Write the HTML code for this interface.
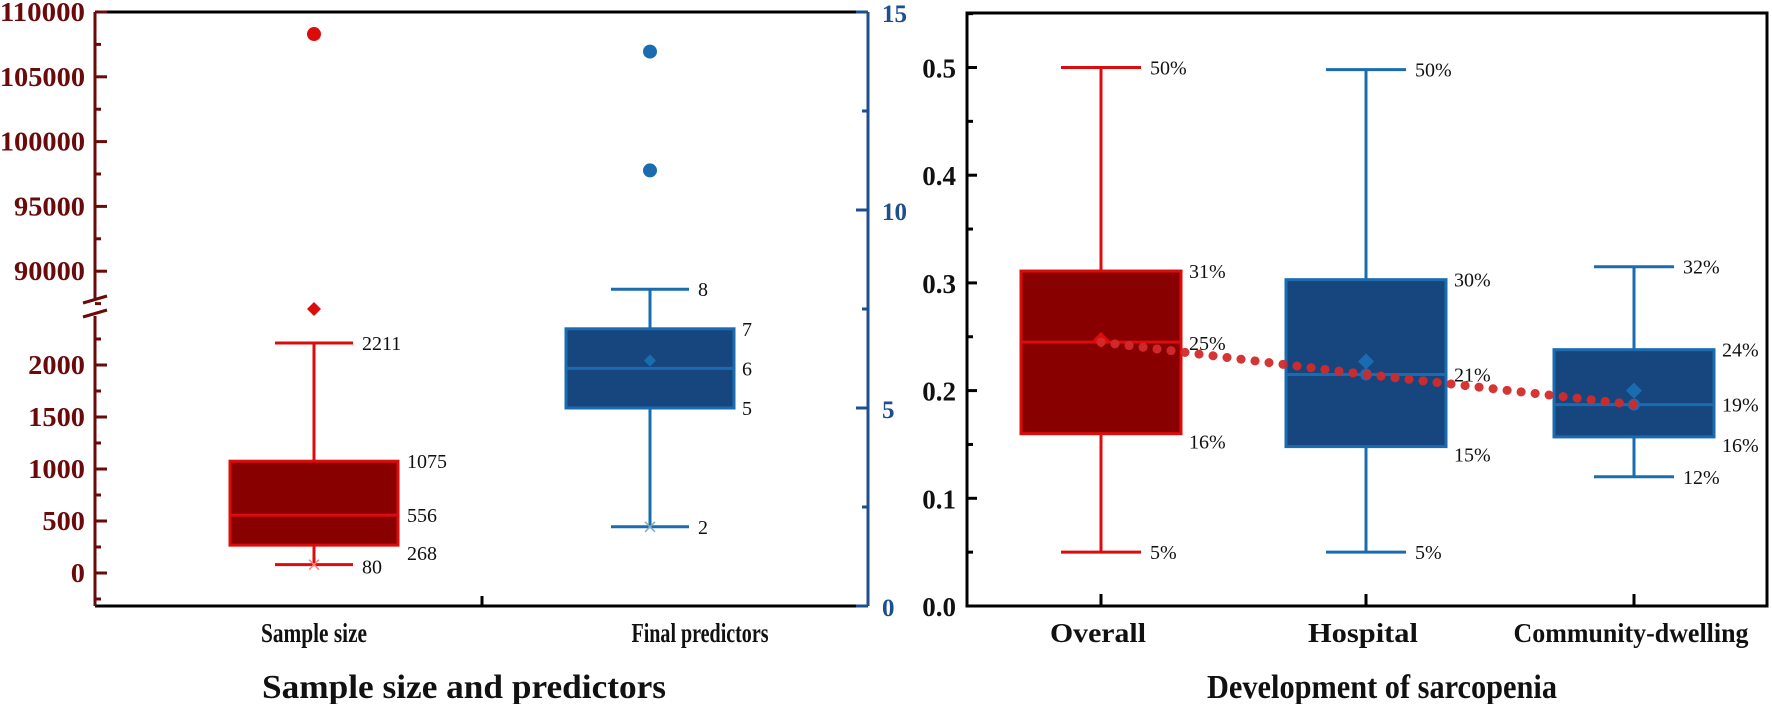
<!DOCTYPE html>
<html><head><meta charset="utf-8"><style>
html,body{margin:0;padding:0;background:#fff;}
svg{display:block;}
text{font-family:"Liberation Serif",serif;}
</style></head><body>
<svg id="chart" width="1772" height="704" viewBox="0 0 1772 704" xmlns="http://www.w3.org/2000/svg"></svg>
<script>
// ---- Left panel data ----
const leftCats = ["Sample size", "Final predictors"];
const sampleStats = [80, 268, 556, 1075, 2211]; // min,q1,med,q3,max
const sampleOutliers = [108300];
const predictorStats = [2, 5, 6, 7, 8];
const predictorMean = [6.2];
const predictorOutliers = [14, 11];
const leftUpperTicks = [90000, 95000, 100000, 105000, 110000];
const leftLowerTicks = [0, 500, 1000, 1500, 2000];
const rightAxisTicks = [0, 5, 10, 15];
// ---- Right panel data ----
const rightCats = ["Overall", "Hospital", "Community-dwelling"];
const rMin = [0.05, 0.05, 0.12];
const rQ1 = [0.16, 0.148, 0.157];
const rMed = [0.245, 0.215, 0.187];
const rQ3 = [0.311, 0.303, 0.238];
const rMax = [0.50, 0.498, 0.315];
const rMean = [0.247, 0.227, 0.20];
const rLabMax = ["50%", "50%", "32%"];
const rLabQ3 = ["31%", "30%", "24%"];
const rLabMed = ["25%", "21%", "19%"];
const rLabQ1 = ["16%", "15%", "16%"];
const rLabMin = ["5%", "5%", "12%"];
const rTicks = [0.0, 0.1, 0.2, 0.3, 0.4, 0.5];

const svg = document.getElementById('chart');
const NS = "http://www.w3.org/2000/svg";
function el(tag, attrs, parent) {
  const e = document.createElementNS(NS, tag);
  for (const k in attrs) e.setAttribute(k, attrs[k]);
  (parent || svg).appendChild(e);
  return e;
}
function txt(x, y, s, attrs, parent) {
  const t = el('text', Object.assign({x: x, y: y}, attrs), parent);
  t.textContent = s;
  return t;
}
const RED_FILL = "#880000", RED = "#dd0c0c", BLUE_FILL = "#17467f", BLUE = "#1a6cb0", DARKRED = "#6b0a0a", AXBLUE = "#1d4f8f";

// ---- Left scales ----
const LX0 = 95, LX1 = 868, LTOP = 12, LBOT = 606;
function yUp(v) { return 12 + (110000 - v) / 5000 * 64.8; }
function yLow(v) { return 573 - v * 0.104; }
function yS(v) { return v > 50000 ? yUp(v) : yLow(v); }
function yP(v) { return 606 - v * 39.6; }
const lcx = [314, 650];

let g = el('g', {});


el('line', {x1: LX0, y1: LTOP, x2: LX1, y2: LTOP, stroke: "#000", "stroke-width": 3}, g);
el('line', {x1: LX0, y1: LBOT, x2: LX1, y2: LBOT, stroke: "#000", "stroke-width": 3}, g);
el('line', {x1: 482, y1: LBOT, x2: 482, y2: LBOT - 10, stroke: "#000", "stroke-width": 3}, g);

g = el('g', {});


el('line', {x1: LX0, y1: LTOP, x2: LX0, y2: 300, stroke: DARKRED, "stroke-width": 3}, g);
el('line', {x1: LX0, y1: 316, x2: LX0, y2: LBOT, stroke: DARKRED, "stroke-width": 3}, g);
el('line', {x1: 83, y1: 303, x2: 107, y2: 296, stroke: DARKRED, "stroke-width": 3}, g);
el('line', {x1: 83, y1: 317, x2: 107, y2: 310, stroke: DARKRED, "stroke-width": 3}, g);
function leftLabel(v, y) {
  const s = String(v);
  const t = txt(85, y + 9, s, {"text-anchor": "end", "font-size": 27, "font-weight": "bold", fill: DARKRED, textLength: s.length * 14.2, lengthAdjust: "spacingAndGlyphs"}, g);
  
  
}
leftUpperTicks.forEach(v => {
  el('line', {x1: LX0, y1: yUp(v), x2: LX0 + 12, y2: yUp(v), stroke: DARKRED, "stroke-width": 3}, g);
  el('line', {x1: LX0, y1: yUp(v - 2500), x2: LX0 + 6, y2: yUp(v - 2500), stroke: DARKRED, "stroke-width": 3}, g);
  leftLabel(v, yUp(v));
});
leftLowerTicks.forEach(v => {
  el('line', {x1: LX0, y1: yLow(v), x2: LX0 + 12, y2: yLow(v), stroke: DARKRED, "stroke-width": 3}, g);
  el('line', {x1: LX0, y1: yLow(v + 250), x2: LX0 + 6, y2: yLow(v + 250), stroke: DARKRED, "stroke-width": 3}, g);
  leftLabel(v, yLow(v));
});
el('line', {x1: LX0, y1: yLow(-250), x2: LX0 + 6, y2: yLow(-250), stroke: DARKRED, "stroke-width": 3}, g);

g = el('g', {});


el('line', {x1: LX1, y1: LTOP, x2: LX1, y2: LBOT, stroke: AXBLUE, "stroke-width": 3}, g);
rightAxisTicks.forEach(v => {
  el('line', {x1: LX1, y1: yP(v), x2: LX1 - 12, y2: yP(v), stroke: AXBLUE, "stroke-width": 3}, g);
  if (v < 15) el('line', {x1: LX1, y1: yP(v + 2.5), x2: LX1 - 6, y2: yP(v + 2.5), stroke: AXBLUE, "stroke-width": 3}, g);
  const t = txt(882, yP(v) + 10, String(v), {"font-size": 25, "font-weight": "bold", fill: AXBLUE}, g);
  
  
});

function drawBox(name, cx, hw, capw, yf, st, fill, stroke) {
  const grp = el('g', {});
  
  
  const [mn, q1, md, q3, mx] = st.map(yf);
  el('line', {x1: cx, y1: mx, x2: cx, y2: q3, stroke: stroke, "stroke-width": 3}, grp);
  el('line', {x1: cx, y1: q1, x2: cx, y2: mn, stroke: stroke, "stroke-width": 3}, grp);
  el('line', {x1: cx - capw, y1: mx, x2: cx + capw, y2: mx, stroke: stroke, "stroke-width": 3}, grp);
  el('line', {x1: cx - capw, y1: mn, x2: cx + capw, y2: mn, stroke: stroke, "stroke-width": 3}, grp);
  el('rect', {x: cx - hw, y: q3, width: 2 * hw, height: q1 - q3, fill: fill, stroke: stroke, "stroke-width": 3}, grp);
  el('line', {x1: cx - hw, y1: md, x2: cx + hw, y2: md, stroke: stroke, "stroke-width": 3}, grp);
  return grp;
}
function diamond(x, y, r, fill, parent) {
  return el('polygon', {points: `${x},${y - r} ${x + r},${y} ${x},${y + r} ${x - r},${y}`, fill: fill}, parent);
}

let b = drawBox('sample-size-box', lcx[0], 84, 39, yS, sampleStats, RED_FILL, RED);
el('path', {d: `M${lcx[0]-5},${yS(sampleStats[0])-5}l10,10M${lcx[0]+5},${yS(sampleStats[0])-5}l-10,10`, stroke: "#e88", "stroke-width": 1.5}, b);
diamond(lcx[0], 309, 7, RED, b);
sampleOutliers.forEach(v => {
  const c = el('circle', {cx: lcx[0], cy: yS(v), r: 7, fill: RED});
  
  
});
[[sampleStats[4], 362], [sampleStats[3], 407], [sampleStats[2], 407], [sampleStats[1], 407], [sampleStats[0], 362]].forEach(([v, x]) => {
  let yy = yS(v) + 7;
  if (v === sampleStats[1]) yy += 8;
  if (v === sampleStats[0]) yy += 2;
  const t = txt(x, yy, String(v), {"font-size": 20, fill: "#111"});
  
  
});

b = drawBox('final-predictors-box', lcx[1], 84, 39, yP, predictorStats, BLUE_FILL, BLUE);
el('path', {d: `M${lcx[1]-5},${yP(predictorStats[0])-5}l10,10M${lcx[1]+5},${yP(predictorStats[0])-5}l-10,10`, stroke: "#8ab", "stroke-width": 1.5}, b);
diamond(lcx[1], yP(predictorMean[0]), 6, BLUE, b);
predictorOutliers.forEach(v => {
  const c = el('circle', {cx: lcx[1], cy: yP(v), r: 7, fill: BLUE});
  
  
});
predictorStats.forEach((v, i) => {
  const x = (i === 0 || i === 4) ? 698 : 742;
  const t = txt(x, yP(v) + 7, String(v), {"font-size": 20, fill: "#111"});
  
  
});

const leftCatX = [314, 700], leftCatW = [106, 137];
leftCats.forEach((c, i) => {
  const t = txt(leftCatX[i], 642, c, {"text-anchor": "middle", "font-size": 27, "font-weight": "bold", fill: "#111", textLength: leftCatW[i], lengthAdjust: "spacingAndGlyphs"});
  
  
});
let tt = txt(464, 698, "Sample size and predictors", {"text-anchor": "middle", "font-size": 34, "font-weight": "bold", fill: "#111", textLength: 404, lengthAdjust: "spacingAndGlyphs"});



// ---- Right panel ----
const RX0 = 967, RX1 = 1767, RTOP = 13, RBOT = 606;
function yR(v) { return 606 - v * 1077; }
const rcx = [1101, 1366, 1634];
g = el('g', {});


el('rect', {x: RX0, y: RTOP, width: RX1 - RX0, height: RBOT - RTOP, fill: "none", stroke: "#000", "stroke-width": 3}, g);
rTicks.forEach(v => {
  el('line', {x1: RX0, y1: yR(v), x2: RX0 + 10, y2: yR(v), stroke: "#000", "stroke-width": 3}, g);
  el('line', {x1: RX0, y1: yR(v + 0.05), x2: RX0 + 6, y2: yR(v + 0.05), stroke: "#000", "stroke-width": 3}, g);
  const t = txt(956, yR(v) + 10, v.toFixed(1), {"text-anchor": "end", "font-size": 27, "font-weight": "bold", fill: "#111"}, g);
  
  
});
rcx.forEach(x => el('line', {x1: x, y1: RBOT, x2: x, y2: RBOT - 12, stroke: "#000", "stroke-width": 3}, g));

const rightCatW = [96, 110, 235];
rightCats.forEach((c, i) => {
  const fill = i === 0 ? RED_FILL : BLUE_FILL, stroke = i === 0 ? RED : BLUE;
  const bx = drawBox('box-' + c.toLowerCase(), rcx[i], 80, 40, yR, [rMin[i], rQ1[i], rMed[i], rQ3[i], rMax[i]], fill, stroke);
  diamond(rcx[i], yR(rMean[i]), 8, stroke, bx);
  if (i > 0) el('circle', {cx: rcx[i], cy: yR(rMed[i]), r: 6, fill: stroke}, bx);
  const lab = (v, s, x, dy) => {
    const t = txt(x, yR(v) + 7 + (dy || 0), s, {"font-size": 20, fill: "#111"});
    
    
  };
  lab(rMax[i], rLabMax[i], rcx[i] + 49);
  lab(rMin[i], rLabMin[i], rcx[i] + 49);
  lab(rQ3[i], rLabQ3[i], rcx[i] + 88);
  lab(rMed[i], rLabMed[i], rcx[i] + 88, i === 0 ? 1 : 0);
  lab(rQ1[i], rLabQ1[i], rcx[i] + 88, 8);
  const t = txt(rcx[i] - 3, 642, c, {"text-anchor": "middle", "font-size": 27, "font-weight": "bold", fill: "#111", textLength: rightCatW[i], lengthAdjust: "spacingAndGlyphs"});
  
  
});
const trend = el('polyline', {points: rcx.map((x, i) => `${x},${yR(rMed[i])}`).join(' '), fill: "none", stroke: "#d42a2a", "stroke-width": 9, "stroke-linecap": "round", "stroke-dasharray": "0.1 14", opacity: 0.95});



tt = txt(1382, 698, "Development of sarcopenia", {"text-anchor": "middle", "font-size": 34, "font-weight": "bold", fill: "#111", textLength: 350, lengthAdjust: "spacingAndGlyphs"});


</script>
</body></html>
